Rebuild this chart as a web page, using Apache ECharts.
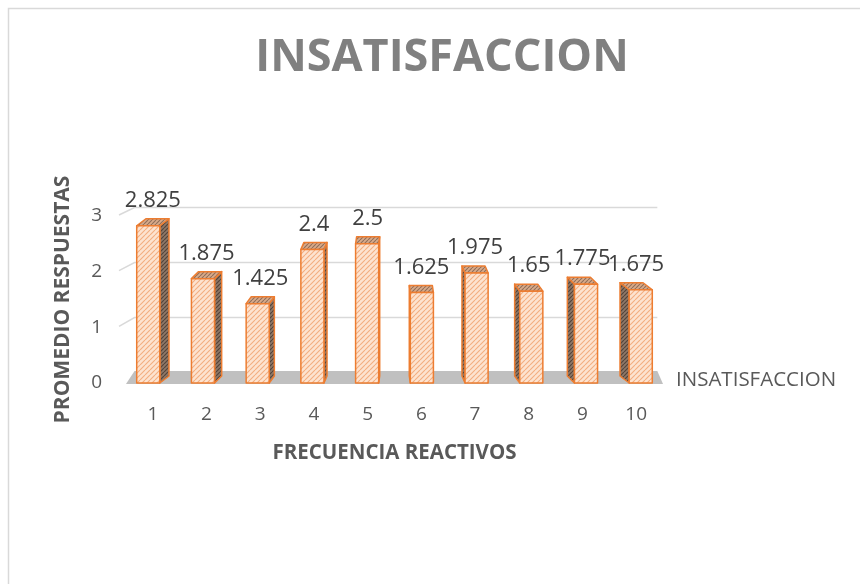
<!DOCTYPE html>
<html>
<head>
<meta charset="utf-8">
<style>html,body{margin:0;padding:0;background:#fff;}#c{width:860px;height:584px;}</style>
<script src="https://cdn.jsdelivr.net/npm/echarts@6/dist/echarts.min.js"></script>
</head>
<body>
<div id="c"></div>
<script>
const categories = ['1','2','3','4','5','6','7','8','9','10'];
const values = [2.825, 1.875, 1.425, 2.4, 2.5, 1.625, 1.975, 1.65, 1.775, 1.675];
const yTicks = [0, 1, 2, 3];
const seriesName = 'INSATISFACCION';
const titleText = 'INSATISFACCION';
const xName = 'FRECUENCIA REACTIVOS';
const yName = 'PROMEDIO RESPUESTAS';

function hatch(bg, fg, size, lw) {
  const cv = document.createElement('canvas');
  cv.width = size; cv.height = size;
  const ctx = cv.getContext('2d');
  ctx.fillStyle = bg; ctx.fillRect(0, 0, size, size);
  ctx.strokeStyle = fg; ctx.lineWidth = lw;
  ctx.beginPath();
  for (const k of [-size, 0, size]) { ctx.moveTo(k, size); ctx.lineTo(k + size, 0); }
  ctx.stroke();
  return { image: cv, repeat: 'repeat' };
}
const frontFill = hatch('#fde3d0', '#f3ae80', 5, 1.1);
const sideFill = hatch('#8e7868', '#54443a', 4, 1.2);
const topFill = hatch('#d9aa8a', '#8f6f5a', 4, 1.1);
const edge = '#ed7d31';
const FONT = '"Open Sans", "Liberation Sans", sans-serif';

const chart = echarts.init(document.getElementById('c'), null, { renderer: 'canvas' });

function backPt(cs, x, y) {
  const vx = cs.x + cs.width * 0.6, vy = cs.y - 4 * cs.height;
  return [vx + (x - vx) * 0.9735, vy + (y - vy) * 0.9874];
}

function renderScene(params, api) {
  const cs = params.coordSys;
  const x0 = cs.x, x1 = cs.x + cs.width;
  const y0 = api.coord([0, 0])[1];
  const children = [];
  const bl = backPt(cs, x0, y0), br = backPt(cs, x1, y0);
  children.push({
    type: 'polygon',
    shape: { points: [[x0, y0 + 1], [x1, y0 + 1], [br[0], br[1] - 1.5], [bl[0], bl[1] - 1.5]] },
    style: { fill: '#c0c0c0' }
  });
  yTicks.forEach(v => {
    if (v === 0) return;
    const y = api.coord([0, v])[1];
    const a = backPt(cs, x0, y), b = backPt(cs, x1, y);
    children.push({
      type: 'polyline',
      shape: { points: [[x0 - 7, y - 1], a, b] },
      style: { stroke: '#d9d9d9', lineWidth: 1.5, fill: null }
    });
  });
  children.push({
    type: 'text',
    style: { text: seriesName, x: x1 + 13, y: y0 - 3, align: 'left', verticalAlign: 'middle',
      font: '20.5px ' + FONT, fill: '#595959' }
  });
  return { type: 'group', children };
}

function renderBar(params, api) {
  const cs = params.coordSys;
  const idx = api.value(0), val = api.value(1);
  const top = api.coord([idx, val]);
  const base = api.coord([idx, 0]);
  const bw = api.size([1, 0])[0];
  const w = bw * 0.43;
  const vx = cs.x + cs.width * 0.5;
  const cx = top[0];
  const dx = (vx - cx) * 0.038;
  const dy = -7;
  const fc = cx - dx / 2;
  const L = fc - w / 2, R = fc + w / 2;
  const yt = top[1], yb = base[1];
  const ex = dx >= 0 ? R : L;
  const style = (fill) => ({ fill, stroke: edge, lineWidth: 1.5, lineJoin: 'round' });
  return {
    type: 'group',
    children: [
      { type: 'polygon', shape: { points: [[ex, yt], [ex + dx, yt + dy], [ex + dx, yb + dy], [ex, yb]] }, style: style(sideFill) },
      { type: 'polygon', shape: { points: [[L, yt], [L + dx, yt + dy], [R + dx, yt + dy], [R, yt]] }, style: style(topFill) },
      { type: 'rect', shape: { x: L, y: yt, width: w, height: yb - yt }, style: style(frontFill) },
      { type: 'text', style: { text: String(val), x: cx, y: yt + dy - 18, align: 'center', verticalAlign: 'middle',
          font: '22px ' + FONT, fill: '#404040' } }
    ]
  };
}

const option = {
  backgroundColor: '#ffffff',
  animation: false,
  title: {
    text: titleText, left: 437, top: 31, textAlign: 'center',
    textStyle: { fontFamily: FONT, fontSize: 45, fontWeight: 'bold', color: '#808080' }
  },
  graphic: [{
    type: 'rect', left: 6, top: 6, silent: true,
    shape: { width: 900, height: 700 },
    style: { fill: 'none', stroke: '#d9d9d9', lineWidth: 1.5 }
  }],
  grid: { left: 126, right: 197, top: 216, bottom: 201 },
  xAxis: {
    type: 'category', data: categories,
    name: xName, nameLocation: 'middle', nameGap: 60,
    nameTextStyle: { fontFamily: FONT, fontSize: 20.5, fontWeight: 'bold', color: '#595959' },
    axisLine: { show: false }, axisTick: { show: false },
    axisLabel: { margin: 22, fontFamily: FONT, fontSize: 19, color: '#595959' }
  },
  yAxis: {
    type: 'value', min: 0, max: 3, interval: 1,
    name: yName, nameLocation: 'middle', nameGap: 52,
    nameTextStyle: { fontFamily: FONT, fontSize: 21, fontWeight: 'bold', color: '#595959' },
    axisLine: { show: false }, axisTick: { show: false }, splitLine: { show: false },
    axisLabel: { margin: 24, fontFamily: FONT, fontSize: 19, color: '#595959' }
  },
  series: [
    { type: 'custom', name: 'scene', z: 1, silent: true, renderItem: renderScene, data: [[0, 0]] },
    { type: 'custom', name: seriesName, z: 2, renderItem: renderBar,
      data: values.map((v, i) => [i, v]), encode: { x: 0, y: 1 } }
  ]
};
chart.setOption(option);
</script>
</body>
</html>
